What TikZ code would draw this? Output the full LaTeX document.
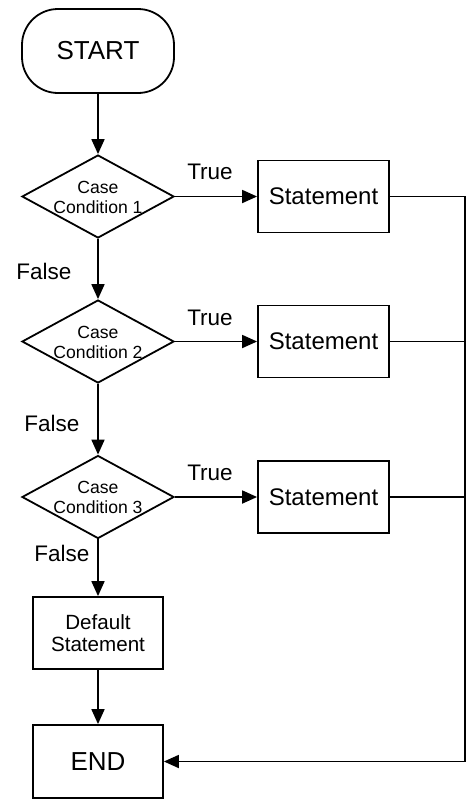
\documentclass[tikz,border=0pt]{standalone}
\usepackage{fontspec}
\setmainfont{Liberation Sans}
\usetikzlibrary{shapes.geometric,arrows.meta}
\begin{document}
\begin{tikzpicture}[x=1pt,y=-1pt,line width=1.8pt,
  startstop/.style={draw,rectangle,rounded corners=36pt,minimum width=152pt,minimum height=84pt,inner sep=0pt,font=\fontsize{26}{30}\selectfont},
  decision/.style={draw,diamond,minimum width=152pt,minimum height=83pt,inner sep=0pt},
  dectext/.style={align=center,inner sep=0pt,font=\fontsize{17.6}{20}\selectfont},
  stmt/.style={draw,rectangle,minimum width=131pt,minimum height=72pt,inner sep=0pt,font=\fontsize{24}{28}\selectfont},
  defstmt/.style={draw,rectangle,minimum width=130pt,minimum height=72pt,inner sep=0pt,align=center,font=\fontsize{20.6}{22}\selectfont},
  endbox/.style={draw,rectangle,minimum width=130pt,minimum height=73pt,inner sep=0pt,font=\fontsize{26}{30}\selectfont},
  lbl/.style={inner sep=0pt,font=\fontsize{22.5}{26}\selectfont},
  arr/.style={-{Triangle[length=15pt,width=13pt]}}]
\useasboundingbox (0,0) rectangle (474,807);

\node[startstop] (start) at (98,51) {START};
\node[decision] (d1) at (98,196.5) {};
\node[dectext] (d1t) at (98,197) {Case\\Condition 1};
\node[decision] (d2) at (98,341.5) {};
\node[dectext] (d2t) at (98,342) {Case\\Condition 2};
\node[decision] (d3) at (98,497) {};
\node[dectext] (d3t) at (98,497.5) {Case\\Condition 3};
\node[stmt] (s1) at (323.5,196.5) {Statement};
\node[stmt] (s2) at (323.5,341.5) {Statement};
\node[stmt] (s3) at (323.5,497) {Statement};
\node[defstmt] (def) at (98,633) {Default\\Statement};
\node[endbox] (end) at (98,761.5) {END};

\node[lbl] (tr1) at (210,172) {True};
\node[lbl] (tr2) at (210,318) {True};
\node[lbl] (tr3) at (210,473) {True};
\node[lbl] (f1) at (44,271) {False};
\node[lbl] (f2) at (52,423) {False};
\node[lbl] (f3) at (62,553) {False};

\draw[arr] (start) -- (d1);
\draw[arr] (d1) -- (d2);
\draw[arr] (d2) -- (d3);
\draw[arr] (d3) -- (def);
\draw[arr] (def) -- (end);
\draw[arr] (d1) -- (s1);
\draw[arr] (d2) -- (s2);
\draw[arr] (d3) -- (s3);

\coordinate (bus) at (465,196.5);
\draw[arr] (s1.east) -- (bus) |- (end.east);
\draw (s2.east) -- (s2.east -| bus);
\draw (s3.east) -- (s3.east -| bus);
\end{tikzpicture}
\end{document}
